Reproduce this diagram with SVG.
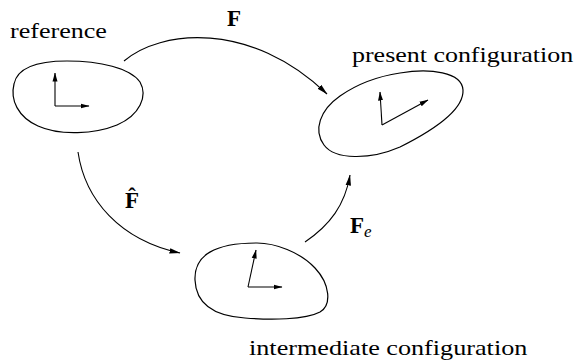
<svg xmlns="http://www.w3.org/2000/svg" width="576" height="364" viewBox="0 0 576 364">
<style>
.blob{fill:none;stroke:#000;stroke-width:1.2}
.ax{fill:none;stroke:#000;stroke-width:1.1;marker-end:url(#ah)}
.arc{fill:none;stroke:#000;stroke-width:1.1;marker-end:url(#big)}
text{font-family:"Liberation Serif","Times New Roman",serif;fill:#000}
.lbl{font-size:22px}
.mth{font-size:23px;font-weight:bold}
</style>
<defs>
<marker id="ah" markerUnits="userSpaceOnUse" markerWidth="9" markerHeight="6" refX="8.5" refY="3" orient="auto">
<path d="M0,0.5 L9,3 L0,5.5 z" fill="#000"/>
</marker>
<marker id="big" markerUnits="userSpaceOnUse" markerWidth="11" markerHeight="7" refX="10.5" refY="3.5" orient="auto">
<path d="M0,0.8 L11,3.5 L0,6.2 z" fill="#000"/>
</marker>
</defs>
<g id="connectors">
<path class="arc" d="M124 61 C160 30 250 20 327 94"/>
<path class="arc" d="M78 152 C85 200 120 240 180 253"/>
<path class="arc" d="M305 242 C330 225 345 205 350 175"/>
</g>
<g id="reference">
<path class="blob" d="M67 61 C100 61 130 68 140 82 C148 96 140 115 117 125 C95 134 60 136 38 126 C18 117 10 100 14 84 C17 69 35 61 67 61 Z"/>
<path class="ax" d="M55 106 L55 73"/>
<path class="ax" d="M55 106 L89 106"/>
<text class="lbl" transform="translate(10 38) scale(1.185 1)" font-family="Liberation Serif, serif">reference</text>
</g>
<g id="present">
<path class="blob" d="M400 73 C430 68 462 72 463 90 C464 108 440 127 400 147 C370 160 335 160 324 145 C313 130 320 110 340 96 C360 82 380 76 400 73 Z"/>
<path class="ax" d="M382 125 L380 92"/>
<path class="ax" d="M382 125 L428 100"/>
<text class="lbl" transform="translate(352 62) scale(1.18 1)" font-family="Liberation Serif, serif">present configuration</text>
</g>
<g id="intermediate">
<path class="blob" d="M257 243 C275 243 300 252 315 268 C330 284 332 305 320 312 C305 320 270 320 245 318 C215 316 196 305 195 280 C194 255 215 243 257 243 Z"/>
<path class="ax" d="M248 287 L256 250"/>
<path class="ax" d="M248 287 L282 287"/>
<text class="lbl" transform="translate(249 355) scale(1.19 1)" font-family="Liberation Serif, serif">intermediate configuration</text>
</g>
<g id="labels">
<text class="mth" x="227" y="26">F</text>
<text class="mth" x="125" y="208">F̂</text>
<text class="mth" x="350" y="233">F<tspan font-weight="normal" font-style="italic" font-size="17px" dy="4">e</tspan></text>
</g>
</svg>
